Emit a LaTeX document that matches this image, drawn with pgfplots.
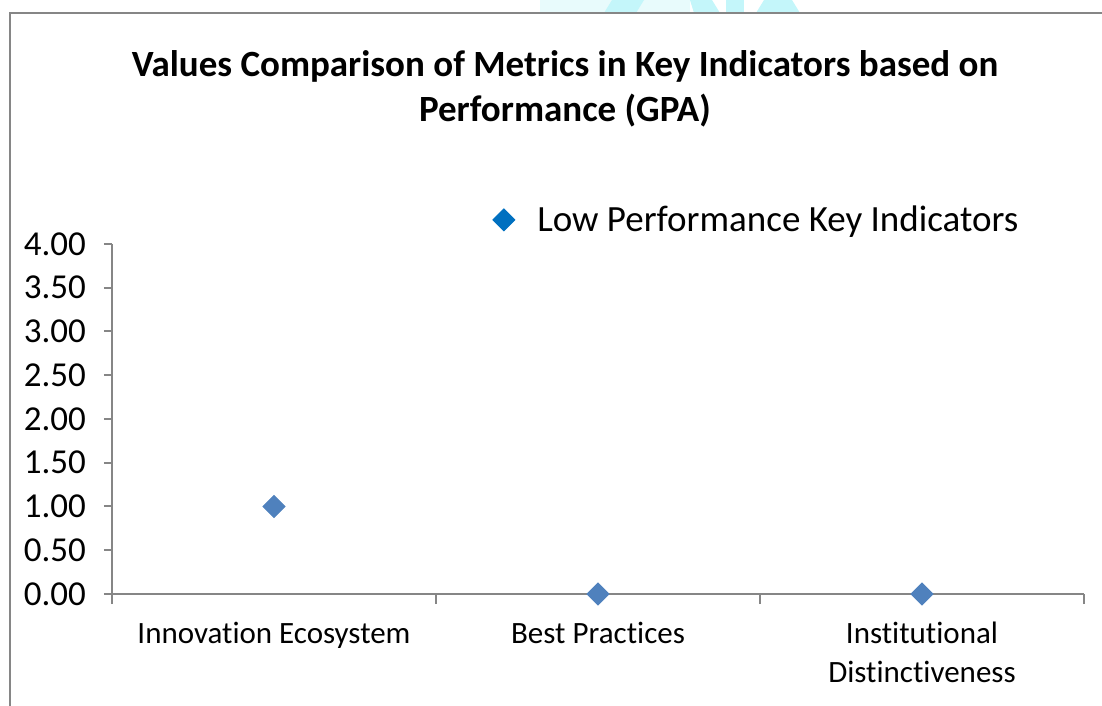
\documentclass[border=0pt]{standalone}
\usepackage{fontspec}
\setmainfont{Carlito}[Ligatures={NoCommon}]
\usepackage{pgfplots}
\pgfplotsset{compat=1.18}
\definecolor{mk}{HTML}{4F81BD}
\definecolor{legmk}{HTML}{0070C0}
\definecolor{axgray}{HTML}{868686}
\definecolor{wm}{HTML}{C4F6FA}
\definecolor{wmpale}{HTML}{E8FBFC}
\begin{document}
\begin{tikzpicture}
\path[use as bounding box] (-56pt,-56pt) rectangle (495pt,297pt);
% faint watermark remains above the frame
\fill[wmpale] (214pt,290.5pt) rectangle (289pt,297pt);
\fill[wm] (246pt,290.5pt) -- (262pt,290.5pt) -- (266pt,297pt) -- (250pt,297pt) -- cycle;
\fill[wm] (291pt,290.5pt) -- (304pt,290.5pt) -- (300pt,297pt) -- (289pt,297pt) -- cycle;
\fill[wm] (307pt,290.5pt) rectangle (316pt,297pt);
\fill[wm] (322pt,290.5pt) -- (344pt,290.5pt) -- (340pt,297pt) -- (326pt,297pt) -- cycle;
% outer chart frame (only left and top edges are visible)
\draw[line width=1pt, axgray] (-51pt,-60pt) -- (-51pt,290.5pt) -- (500pt,290.5pt);
\node[font=\fontsize{18.5}{22.5}\selectfont\bfseries, align=center] at (226.5pt,252.5pt)
  {Values Comparison of Metrics in Key Indicators based on\\Performance (GPA)};
\begin{axis}[
  at={(0pt,0pt)}, anchor=south west,
  scale only axis, width=486pt, height=175pt,
  xmin=-0.5, xmax=2.5, ymin=0, ymax=4,
  axis lines=left, axis line style={-, axgray, line width=1pt},
  tick align=outside, major tick length=4pt, minor tick length=5pt,
  tick style={axgray, line width=1pt},
  ytick={0,0.5,1,1.5,2,2.5,3,3.5,4},
  /pgf/number format/assume math mode=true,
  yticklabel style={/pgf/number format/fixed, /pgf/number format/fixed zerofill,
    /pgf/number format/precision=2, font=\fontsize{17.5}{19.5}\selectfont, xshift=-5.5pt},
  xtick={0,1,2},
  xticklabels={Innovation Ecosystem, Best Practices, {Institutional\\Distinctiveness}},
  xticklabel style={align=center, font=\fontsize{15.5}{19.5}\selectfont, yshift=-6.5pt},
  major x tick style={draw=none},
  minor xtick={-0.5,0.5,1.5,2.5},
  legend style={draw=none, fill=none, at={(0.391,1.069)}, anchor=west, inner sep=0pt,
    column sep=9pt, font=\fontsize{18.5}{19.5}\selectfont},
  legend image code/.code={\fill[legmk] (0pt,-5.5pt) -- (5.5pt,0pt) -- (0pt,5.5pt) -- (-5.5pt,0pt) -- cycle;},
  clip=false,
]
\addplot[only marks, mark=square*, mark size=3.9pt, mark options={rotate=45, fill=mk, draw=mk}]
  coordinates {(0,1.00) (1,0.00) (2,0.00)};
\addlegendentry{Low Performance Key Indicators}
\end{axis}
\end{tikzpicture}
\end{document}
